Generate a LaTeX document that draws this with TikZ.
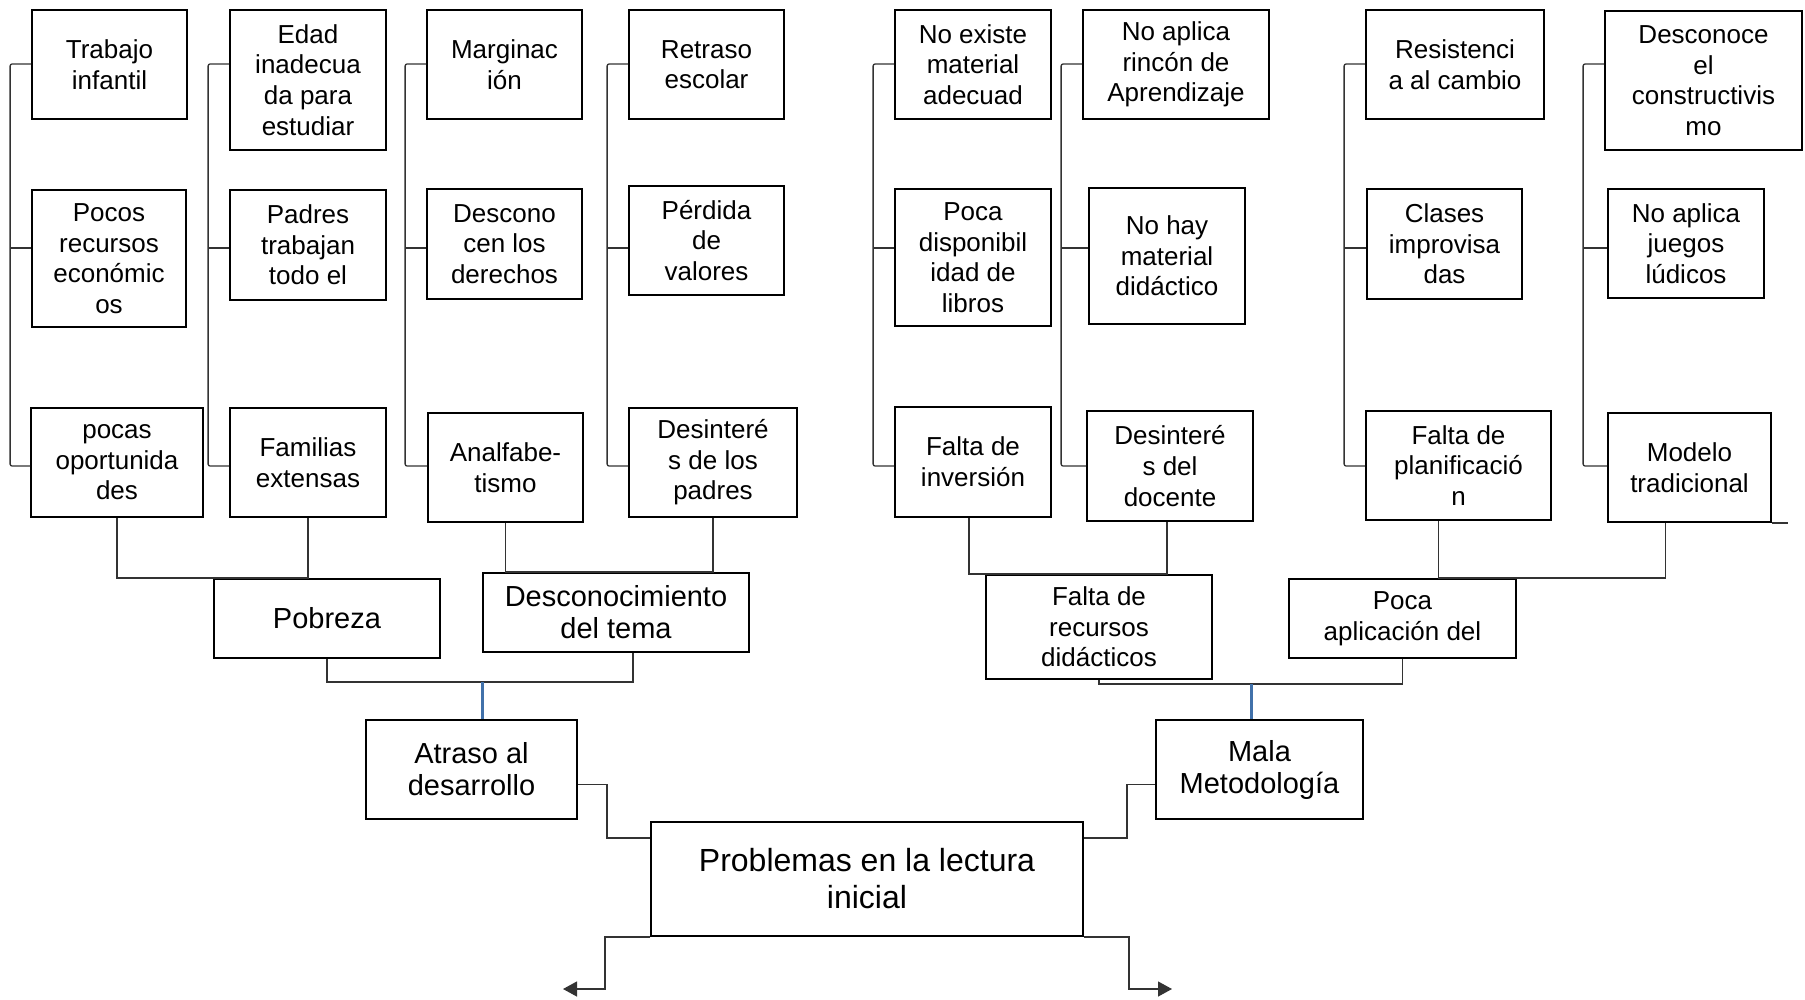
\documentclass[tikz,border=0pt]{standalone}
\usepackage{fontspec}
\setmainfont{Liberation Sans}
\usetikzlibrary{arrows.meta}
\definecolor{linkblue}{RGB}{65,113,170}
\tikzset{
    cause/.style={draw, line width=1.8pt, inner sep=0pt, align=center, font=\fontsize{26}{30.6}\selectfont},
    effect/.style={cause, font=\fontsize{29}{32}\selectfont},
    link/.style={line width=1.3pt, draw=black!80},
    bracket/.style={link, rounded corners=2pt},
    blueline/.style={line width=2.2pt, draw=linkblue},
    outarrow/.style={link, -{Triangle[length=14pt, width=15pt]}}
}
\begin{document}
\begin{tikzpicture}[x=1pt, y=-1pt]
    \useasboundingbox (0, 0) rectangle (1805, 999);
    % causas
    \node [cause, minimum width=155, minimum height=109] (trab) at (109.5, 64.5) {Trabajo\\infantil};
    \node [cause, minimum width=154, minimum height=137] (pocos) at (109, 258.5) {Pocos\\recursos\\económic\\os};
    \node [cause, minimum width=172, minimum height=109] (opor) at (117, 462.5) {pocas\\oportunida\\des};
    \node [cause, minimum width=156, minimum height=140] (edad) at (308, 80) {Edad\\inadecua\\da para\\estudiar};
    \node [cause, minimum width=156, minimum height=110] (padres) at (308, 245) {Padres\\trabajan\\todo el};
    \node [cause, minimum width=156, minimum height=109] (famil) at (308, 462.5) {Familias\\extensas};
    \node [cause, minimum width=155, minimum height=109] (margi) at (504.5, 64.5) {Marginac\\ión};
    \node [cause, minimum width=155, minimum height=110] (derech) at (504.5, 244) {Descono\\cen los\\derechos};
    \node [cause, minimum width=155, minimum height=109] (analf) at (505.5, 467.5) {Analfabe-\\tismo};
    \node [cause, minimum width=155, minimum height=109] (retra) at (706.5, 64.5) {Retraso\\escolar};
    \node [cause, minimum width=155, minimum height=109] (valor) at (706.5, 240.5) {Pérdida\\de\\valores};
    \node [cause, minimum width=168, minimum height=109] (desp) at (713, 462.5) {Desinteré\\s de los\\padres};
    \node [cause, minimum width=156, minimum height=109] (noex) at (973, 64.5) {No existe\\material\\adecuad};
    \node [cause, minimum width=156, minimum height=137] (libros) at (973, 257.5) {Poca\\disponibil\\idad de\\libros};
    \node [cause, minimum width=156, minimum height=110] (inver) at (973, 462) {Falta de\\inversión};
    \node [cause, minimum width=186, minimum height=109] (rincon) at (1176, 64.5) {No aplica\\rincón de\\Aprendizaje};
    \node [cause, minimum width=156, minimum height=136] (nohay) at (1167, 256) {No hay\\material\\didáctico};
    \node [cause, minimum width=166, minimum height=110] (desd) at (1170, 466) {Desinteré\\s del\\docente};
    \node [cause, minimum width=178, minimum height=109] (resis) at (1455, 64.5) {Resistenci\\a al cambio};
    \node [cause, minimum width=155, minimum height=110] (clases) at (1444.5, 244) {Clases\\improvisa\\das};
    \node [cause, minimum width=185, minimum height=109] (plan) at (1458.5, 465.5) {Falta de\\planificació\\n};
    \node [cause, minimum width=197, minimum height=139] (constr) at (1703.5, 80.5) {Desconoce\\el\\constructivis\\mo};
    \node [cause, minimum width=156, minimum height=109] (ludic) at (1686, 243.5) {No aplica\\juegos\\lúdicos};
    \node [cause, minimum width=163, minimum height=109] (model) at (1689.5, 467.5) {Modelo\\tradicional};
    % corchetes
    \foreach \a/\b/\c in {trab/pocos/opor, edad/padres/famil, margi/derech/analf, retra/valor/desp,
                          noex/libros/inver, rincon/nohay/desd, resis/clases/plan, constr/ludic/model} {
        \draw [bracket] (\a.west |- 0,64) -- ++(-21, 0) coordinate (k) |- (\c.west |- 0,466);
        \draw [link] (\b.west |- 0,248) -- (k |- 0,248);
    }
    \draw [link] (model.south east) -- ++(16, 0);
    % segundo nivel
    \node [effect, minimum width=226, minimum height=79] (pobreza) at (327, 618.5) {Pobreza};
    \node [effect, minimum width=266, minimum height=79] (desco) at (616, 612.5) {Desconocimiento\\del tema};
    \node [cause, minimum width=226, minimum height=104] (recur) at (1099, 627) {Falta de\\recursos\\didácticos};
    \node [cause, minimum width=227, minimum height=79] (aplic) at (1402.5, 618.5) {Poca\\aplicación del};
    \draw [link] (opor.south) |- (famil.south |- pobreza.north) -- (famil.south);
    \draw [link] (analf.south) |- (desp.south |- desco.north) -- (desp.south);
    \draw [link] ([xshift=-4pt]inver.south) |- ([xshift=-3pt]desd.south |- recur.north) -- ([xshift=-3pt]desd.south);
    \draw [link] ([xshift=-20pt]plan.south) |- ([xshift=-24pt]model.south |- aplic.north) -- ([xshift=-24pt]model.south);
    % tercer nivel
    \node [effect, minimum width=211, minimum height=99] (atraso) at (471.5, 769.5) {Atraso al\\desarrollo};
    \node [effect, minimum width=207, minimum height=99] (metod) at (1259.5, 769.5) {Mala\\Metodología};
    \draw [link] (pobreza.south) -- ++(0, 23) coordinate (j1) -| ([xshift=17pt]desco.south);
    \draw [link] (recur.south) -- ++(0, 4) coordinate (j2) -| (aplic.south);
    \draw [blueline] ([xshift=11pt]atraso.north |- j1) -- ([xshift=11pt]atraso.north);
    \draw [blueline] ([xshift=-8pt]metod.north |- j2) -- ([xshift=-8pt]metod.north);
    % problema central
    \node [cause, font=\fontsize{32}{37}\selectfont, minimum width=432, minimum height=114] (prob) at (867, 879) {Problemas en la lectura\\inicial};
    \coordinate (outl) at (563, 989);
    \coordinate (outr) at (1172, 989);
    \draw [link] ([yshift=-15pt]atraso.east) -- ++(29, 0) |- ([yshift=41pt]prob.west);
    \draw [link] ([yshift=-15pt]metod.west) -- ++(-28, 0) |- ([yshift=41pt]prob.east);
    \draw [outarrow] (prob.south west) -- ++(-45, 0) |- (outl);
    \draw [outarrow] (prob.south east) -- ++(45, 0) |- (outr);
\end{tikzpicture}
\end{document}
